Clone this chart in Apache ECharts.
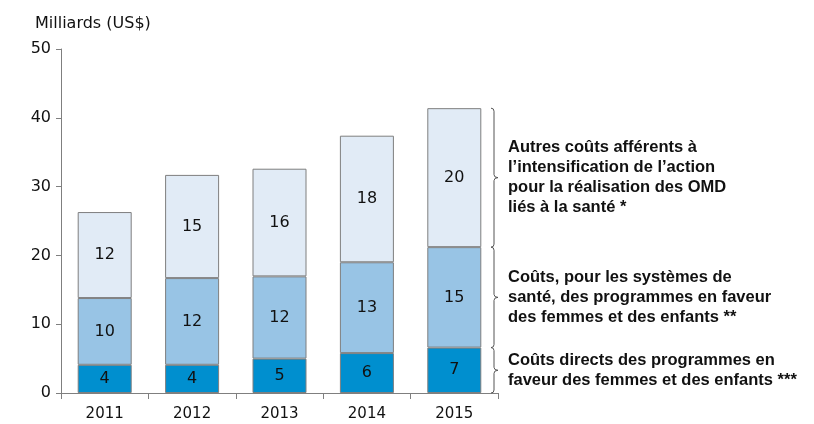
<!DOCTYPE html>
<html>
<head>
<meta charset="utf-8">
<script src="https://cdn.jsdelivr.net/npm/echarts@6/dist/echarts.min.js"></script>
<style>
  html, body { margin: 0; padding: 0; background: #fff; }
  #main { width: 814px; height: 424px; }
</style>
</head>
<body>
<div id="main"></div>
<script>
// years and segment heights (milliards US$)
var years = ['2011', '2012', '2013', '2014', '2015']
var direct = [4.1, 4.1, 5.0, 5.8, 6.6]
var systems = [9.7, 12.6, 11.95, 13.2, 14.6]
var others = [12.5, 15.0, 15.65, 18.4, 20.2]

// values printed inside the bars
var directLabels = [4, 4, 5, 6, 7]
var systemsLabels = [10, 12, 12, 13, 15]
var othersLabels = [12, 15, 16, 18, 20]

var braceTexts = [
  ['Coûts directs des programmes en', 'faveur des femmes et des enfants ***'],
  ['Coûts, pour les systèmes de', 'santé, des programmes en faveur', 'des femmes et des enfants **'],
  ['Autres coûts afférents à', 'l\u2019intensification de l\u2019action', 'pour la réalisation des OMD', 'liés à la santé *']
]

var chartDom = document.getElementById('main')
var myChart = echarts.init(chartDom)

// brace ranges follow the 2015 stack
var last = years.length - 1
var s1 = direct[last]
var s2 = s1 + systems[last]
var s3 = s2 + others[last]
var braceData = [[last, 0, s1], [last, s1, s2], [last, s2, s3]]

function labelFmt (arr) {
  return function (p) { return String(arr[p.dataIndex]) }
}

function barSeries (name, data, labels, color) {
  return {
    name: name,
    type: 'bar',
    stack: 'total',
    data: data,
    barWidth: 54,
    itemStyle: { color: color, borderColor: '#7f7f7f', borderWidth: 1 },
    label: {
      show: true,
      position: 'inside',
      formatter: labelFmt(labels),
      fontFamily: 'DejaVu Sans',
      fontSize: 16,
      color: '#111'
    }
  }
}

var option = {
  animation: false,
  title: {
    text: 'Milliards (US$)',
    left: 30,
    top: 11,
    textStyle: { fontFamily: 'DejaVu Sans', fontSize: 16, fontWeight: 'normal', color: '#111' }
  },
  grid: { left: 61, right: 316, top: 49, bottom: 31 },
  xAxis: {
    type: 'category',
    data: years,
    axisLine: { lineStyle: { color: '#7f7f7f' } },
    axisTick: { show: true, length: 6, lineStyle: { color: '#7f7f7f' } },
    axisLabel: { fontFamily: 'DejaVu Sans', fontSize: 15, color: '#111', margin: 14 }
  },
  yAxis: {
    type: 'value',
    min: 0,
    max: 50,
    interval: 10,
    splitLine: { show: false },
    axisLine: { show: true, lineStyle: { color: '#7f7f7f' } },
    axisTick: { show: true, length: 5, lineStyle: { color: '#7f7f7f' } },
    axisLabel: { fontFamily: 'DejaVu Sans', fontSize: 16, color: '#111', margin: 10 }
  },
  series: [
    barSeries('direct', direct, directLabels, '#008fcf'),
    barSeries('systems', systems, systemsLabels, '#98c4e5'),
    barSeries('others', others, othersLabels, '#e1ebf6'),
    {
      type: 'custom',
      data: braceData,
      encode: { x: 0, y: [1, 2] },
      clip: false,
      silent: true,
      renderItem: function (params, api) {
        var cs = params.coordSys
        var x0 = cs.x + cs.width - 4
        var yb = api.coord([api.value(0), api.value(1)])[1]
        var yt = api.coord([api.value(0), api.value(2)])[1]
        var ym = (yb + yt) / 2
        var path = 'M' + (x0 - 3) + ' ' + yt +
          ' Q' + x0 + ' ' + yt + ' ' + x0 + ' ' + (yt + 3) +
          ' L' + x0 + ' ' + (ym - 3) +
          ' Q' + x0 + ' ' + ym + ' ' + (x0 + 4) + ' ' + ym +
          ' Q' + x0 + ' ' + ym + ' ' + x0 + ' ' + (ym + 3) +
          ' L' + x0 + ' ' + (yb - 3) +
          ' Q' + x0 + ' ' + yb + ' ' + (x0 - 3) + ' ' + yb
        var lines = braceTexts[params.dataIndex]
        return {
          type: 'group',
          children: [
            {
              type: 'path',
              shape: { pathData: path },
              style: { fill: 'none', stroke: '#555', lineWidth: 1 }
            },
            {
              type: 'text',
              style: {
                x: x0 + 14,
                y: ym,
                text: lines.join('\n'),
                fontFamily: 'Liberation Sans',
                fontWeight: 'bold',
                fontSize: 16.5,
                lineHeight: 20,
                fill: '#111',
                align: 'left',
                verticalAlign: 'middle'
              }
            }
          ]
        }
      }
    }
  ]
}

option && myChart.setOption(option)
window.addEventListener('resize', () => myChart.resize())
</script>
</body>
</html>
